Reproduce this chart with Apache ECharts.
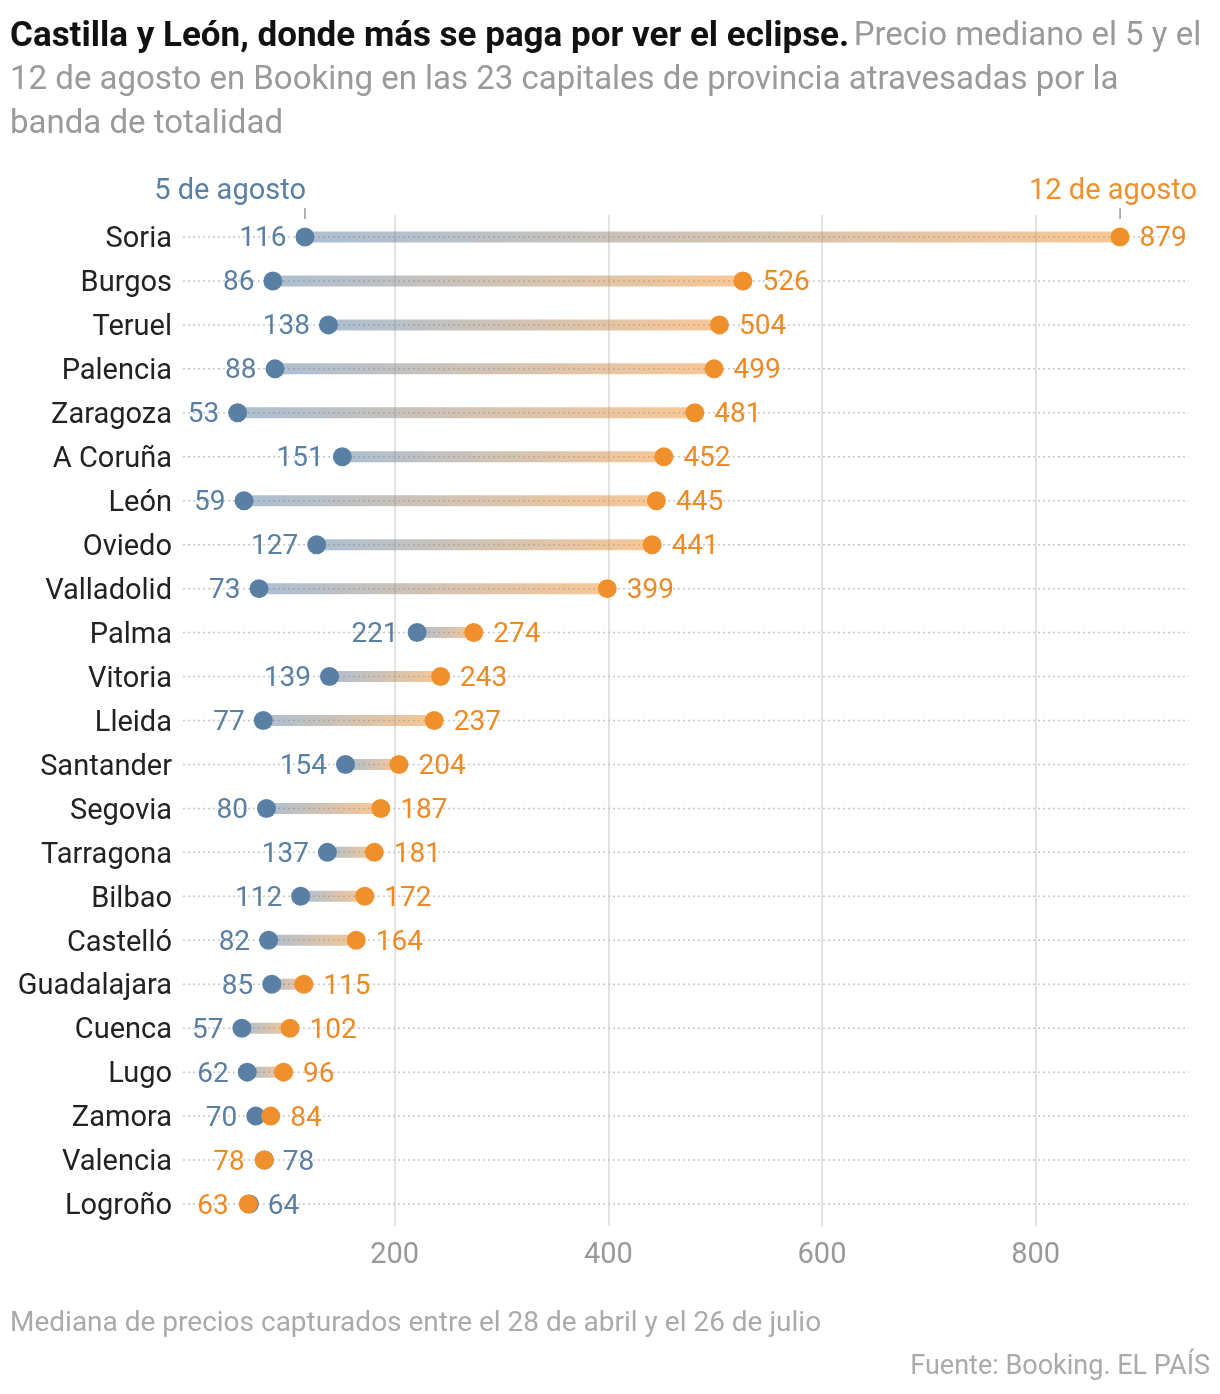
<!DOCTYPE html>
<html>
<head>
<meta charset="utf-8">
<script src="https://cdn.jsdelivr.net/npm/echarts@6/dist/echarts.min.js"></script>
<style>
  body { margin: 0; background: #fff; }
  #chart { width: 1220px; height: 1394px; }
</style>
</head>
<body>
<div id="chart"></div>
<script>
const cities = ['Soria', 'Burgos', 'Teruel', 'Palencia', 'Zaragoza', 'A Coruña', 'León', 'Oviedo',
    'Valladolid', 'Palma', 'Vitoria', 'Lleida', 'Santander', 'Segovia', 'Tarragona', 'Bilbao',
    'Castelló', 'Guadalajara', 'Cuenca', 'Lugo', 'Zamora', 'Valencia', 'Logroño'];
const agosto5 = [116, 86, 138, 88, 53, 151, 59, 127, 73, 221, 139, 77, 154, 80, 137, 112, 82, 85, 57, 62, 70, 78, 64];
const agosto12 = [879, 526, 504, 499, 481, 452, 445, 441, 399, 274, 243, 237, 204, 187, 181, 172, 164, 115, 102, 96, 84, 78, 63];
const tickValues = [200, 400, 600, 800];

const BLUE = '#5a7fa4';
const ORANGE = '#f0902d';
const FONT = 'Roboto, "Noto Sans", sans-serif';
const X_MAX = 945;

const blueData = cities.map((c, i) => ({
    value: [agosto5[i], c],
    label: { position: agosto5[i] < agosto12[i] ? 'left' : 'right' }
}));
const orangeData = cities.map((c, i) => ({
    value: [agosto12[i], c],
    label: { position: agosto12[i] > agosto5[i] ? 'right' : 'left' }
}));
const rangeData = cities.map((c, i) => [agosto5[i], agosto12[i], i]);

const myChart = echarts.init(document.getElementById('chart'));
const option = {
    animation: false,
    textStyle: { fontFamily: FONT },
    title: [{
        left: 5,
        top: 10,
        text: '{b|Castilla y León, donde más se paga por ver el eclipse.} {g|Precio mediano el 5 y el}\n' +
            '{g|12 de agosto en Booking en las 23 capitales de provincia atravesadas por la}\n' +
            '{g|banda de totalidad}',
        textStyle: {
            lineHeight: 44,
            rich: {
                b: { fontFamily: FONT, fontWeight: 'bold', fontSize: 35, color: '#111', lineHeight: 44 },
                g: { fontFamily: FONT, fontWeight: 'normal', fontSize: 33, color: '#9a9a9a', lineHeight: 44 }
            }
        }
    }, {
        left: 5,
        top: 1305,
        text: 'Mediana de precios capturados entre el 28 de abril y el 26 de julio',
        textStyle: { fontFamily: FONT, fontSize: 28, fontWeight: 'normal', color: '#aaa' }
    }, {
        right: 5,
        top: 1349,
        text: 'Fuente: Booking. EL PAÍS',
        textStyle: { fontFamily: FONT, fontSize: 27, fontWeight: 'normal', color: '#aaa' }
    }],
    grid: { left: 181, right: 1220 - 181 - X_MAX * (641 / 600), top: 215, bottom: 168 },
    xAxis: {
        type: 'value',
        min: 0,
        max: X_MAX,
        interval: 200,
        axisLine: { show: false },
        axisTick: { show: false },
        axisLabel: {
            color: '#999',
            fontSize: 29,
            fontFamily: FONT,
            margin: 15,
            showMinLabel: false,
            showMaxLabel: false,
            formatter: v => tickValues.includes(v) ? String(v) : ''
        },
        splitLine: {
            show: true,
            showMinLine: false,
            showMaxLine: false,
            lineStyle: { color: '#e3e3e3', width: 2 }
        }
    },
    yAxis: {
        type: 'category',
        data: cities,
        inverse: true,
        axisLine: { show: false },
        axisTick: { show: false },
        splitLine: { show: false },
        axisLabel: {
            margin: 9,
            formatter: v => '{c|' + v + '}',
            rich: {
                c: { color: '#222', fontSize: 29, fontFamily: FONT, padding: [6, 0, 0, 0] }
            }
        }
    },
    series: [{
        type: 'custom',
        z: 1,
        silent: true,
        data: rangeData,
        encode: { x: [0, 1], y: 2 },
        renderItem: function (params, api) {
            const a = api.coord([api.value(0), api.value(2)]);
            const b = api.coord([api.value(1), api.value(2)]);
            const l = api.coord([0, api.value(2)]);
            const r = api.coord([X_MAX, api.value(2)]);
            const x1 = Math.min(a[0], b[0]);
            const x2 = Math.max(a[0], b[0]);
            return {
                type: 'group',
                children: [{
                    type: 'line',
                    shape: { x1: l[0] + 2, y1: l[1], x2: r[0] - 2, y2: r[1] },
                    style: { stroke: '#c8c8c8', lineWidth: 1.5, lineDash: [2, 3] }
                }, {
                    type: 'rect',
                    shape: { x: x1, y: a[1] - 5.5, width: x2 - x1, height: 11 },
                    style: {
                        fill: new echarts.graphic.LinearGradient(0, 0, 1, 0, [
                            { offset: 0, color: 'rgba(90,127,164,0.5)' },
                            { offset: 1, color: 'rgba(240,144,45,0.5)' }
                        ])
                    }
                }]
            };
        }
    }, {
        type: 'custom',
        z: 1,
        silent: true,
        data: [[agosto5[0], 0, 0], [agosto12[0], 0, 1]],
        encode: { x: 0, y: 1 },
        renderItem: function (params, api) {
            const p = api.coord([api.value(0), api.value(1)]);
            const isBlue = api.value(2) === 0;
            return {
                type: 'group',
                children: [{
                    type: 'line',
                    shape: { x1: p[0], y1: p[1] - 29, x2: p[0], y2: p[1] - 18 },
                    style: { stroke: '#999', lineWidth: 1.5 }
                }, {
                    type: 'text',
                    style: {
                        x: isBlue ? p[0] + 1 : p[0] + 77,
                        y: p[1] - 31,
                        text: isBlue ? '5 de agosto' : '12 de agosto',
                        align: 'right',
                        verticalAlign: 'bottom',
                        fill: isBlue ? BLUE : ORANGE,
                        fontSize: 29,
                        fontFamily: FONT
                    }
                }]
            };
        }
    }, {
        name: '5 de agosto',
        type: 'scatter',
        z: 3,
        symbolSize: 19,
        data: blueData,
        itemStyle: { color: BLUE, opacity: 1 },
        label: {
            show: true,
            distance: 9,
            formatter: p => '{v|' + p.value[0] + '}',
            rich: {
                v: { color: BLUE, fontSize: 28, fontFamily: FONT, padding: [5, 0, 0, 0] }
            }
        }
    }, {
        name: '12 de agosto',
        type: 'scatter',
        z: 4,
        symbolSize: 19,
        data: orangeData,
        itemStyle: { color: ORANGE, opacity: 1 },
        label: {
            show: true,
            distance: 10,
            formatter: p => '{v|' + p.value[0] + '}',
            rich: {
                v: { color: '#ee8a26', fontSize: 28, fontFamily: FONT, padding: [5, 0, 0, 0] }
            }
        }
    }]
};
myChart.setOption(option);
</script>
</body>
</html>
